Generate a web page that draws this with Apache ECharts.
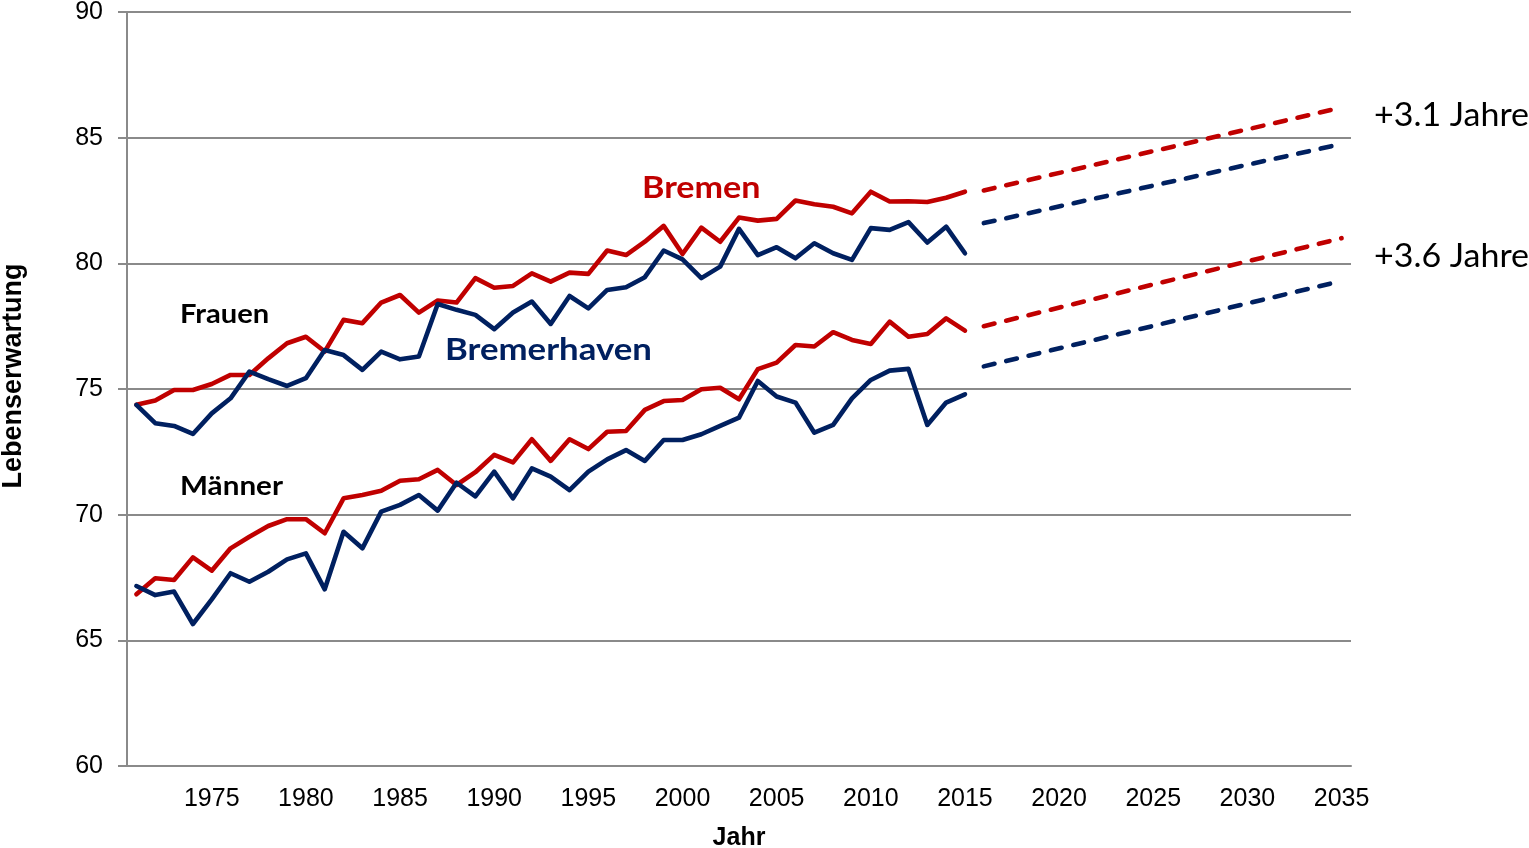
<!DOCTYPE html>
<html>
<head>
<meta charset="utf-8">
<script src="https://cdn.jsdelivr.net/npm/echarts@6/dist/echarts.min.js"></script>
<style>
	html, body { margin: 0; padding: 0; background: #ffffff; }
	#chart { width: 1529px; height: 848px; }
</style>
</head>
<body>
<div id="chart"></div>
<script>
	//Jahre (Kategorien) 1971 - 2035
	var years = [];
	for (var y = 1971; y <= 2035; y++) years.push(String(y));

	//Lebenserwartung 1971 - 2015
	var bremenFrauen = [74.37, 74.54, 74.96, 74.96, 75.2, 75.56, 75.56, 76.22, 76.82, 77.08,
		76.49, 77.75, 77.62, 78.44, 78.74, 78.04, 78.52, 78.44, 79.41, 79.03,
		79.1, 79.6, 79.27, 79.63, 79.58, 80.51, 80.33, 80.86, 81.49, 80.37,
		81.42, 80.86, 81.82, 81.7, 81.77, 82.5, 82.35, 82.25, 81.99, 82.85,
		82.46, 82.47, 82.44, 82.61, 82.85];
	var bremerhavenFrauen = [74.37, 73.64, 73.53, 73.21, 74.03, 74.63, 75.69, 75.39, 75.12, 75.43,
		76.55, 76.35, 75.76, 76.49, 76.18, 76.29, 78.38, 78.15, 77.95, 77.38,
		78.04, 78.48, 77.59, 78.7, 78.21, 78.94, 79.05, 79.45, 80.51, 80.16,
		79.41, 79.87, 81.37, 80.33, 80.64, 80.2, 80.8, 80.4, 80.14, 81.4,
		81.33, 81.64, 80.83, 81.46, 80.4];
	var bremenMaenner = [66.83, 67.47, 67.4, 68.3, 67.77, 68.66, 69.12, 69.55, 69.82, 69.82,
		69.26, 70.65, 70.78, 70.95, 71.35, 71.41, 71.78, 71.18, 71.69, 72.38,
		72.08, 73.0, 72.14, 73.0, 72.61, 73.3, 73.33, 74.17, 74.52, 74.56,
		74.99, 75.05, 74.59, 75.79, 76.05, 76.75, 76.69, 77.26, 76.95, 76.79,
		77.68, 77.08, 77.19, 77.81, 77.32];
	var bremerhavenMaenner = [67.16, 66.8, 66.94, 65.65, 66.63, 67.67, 67.33, 67.73, 68.22, 68.46,
		67.03, 69.32, 68.66, 70.12, 70.39, 70.78, 70.16, 71.27, 70.73, 71.71,
		70.65, 71.84, 71.51, 70.98, 71.71, 72.2, 72.57, 72.14, 72.97, 72.97,
		73.2, 73.53, 73.86, 75.32, 74.7, 74.46, 73.26, 73.57, 74.63, 75.36,
		75.73, 75.8, 73.57, 74.46, 74.79];

	//Prognose (2016 und 2035)
	var progYears = ["2016", "2035"];
	var progBremenFrauen = [82.9, 86.2];
	var progBremerhavenFrauen = [81.6, 84.75];
	var progBremenMaenner = [77.5, 81.0];
	var progBremerhavenMaenner = [75.9, 79.3];

	var rot = "#C00000";
	var blau = "#002060";
	var grau = "#8a8a8a";

	function solid(name, data, color) {
		return {
			name: name,
			type: "line",
			data: data,
			symbol: "none",
			silent: true,
			lineStyle: { color: color, width: 4.6, join: "round", cap: "round" },
		};
	}

	function dashed(name, values, color) {
		var d = [];
		for (var i = 0; i < progYears.length; i++) d.push([progYears[i], values[i]]);
		return {
			name: name,
			type: "line",
			data: d,
			symbol: "none",
			silent: true,
			lineStyle: { color: color, width: 4.6, type: [11, 12], cap: "round" },
		};
	}

	//Beschriftung im Diagramm
	function label(text, x, y, size, weight, color, sx) {
		return {
			type: "text",
			x: x,
			y: y,
			scaleX: sx,
			style: { text: text, font: weight + " " + size + "px Lato", fill: color, verticalAlign: "middle" },
		};
	}

	var chart = echarts.init(document.getElementById("chart"));
	var option = {
		animation: false,
		grid: { left: 127, right: 178, top: 12, bottom: 82, containLabel: false, outerBoundsMode: "none" },
		xAxis: {
			type: "category",
			data: years,
			boundaryGap: true,
			name: "Jahr",
			nameLocation: "middle",
			nameGap: 60,
			nameTextStyle: { fontFamily: "Liberation Sans", fontWeight: "bold", fontSize: 25, color: "#000" },
			axisLine: { lineStyle: { color: grau, width: 2 } },
			axisTick: { interval: 0, alignWithLabel: false, length: 7, lineStyle: { color: grau, width: 2 } },
			axisLabel: {
				interval: function (index, value) {
					return Number(value) % 5 === 0;
				},
				margin: 21,
				fontFamily: "Liberation Sans",
				fontSize: 25,
				color: "#000",
			},
			splitLine: { show: false },
		},
		yAxis: {
			type: "value",
			min: 60,
			max: 90,
			interval: 5,
			name: "Lebenserwartung",
			nameLocation: "middle",
			nameGap: 100,
			nameTextStyle: {
				fontFamily: "Liberation Sans",
				fontWeight: "bold",
				fontSize: 27,
				color: "#000",
				padding: [0, 0, 0, 26],
			},
			axisLine: { show: true, lineStyle: { color: grau, width: 2 } },
			axisTick: { show: true, length: 9, lineStyle: { color: grau, width: 2 } },
			axisLabel: { margin: 24, fontFamily: "Liberation Sans", fontSize: 25, color: "#000" },
			splitLine: { lineStyle: { color: grau, width: 2 } },
		},
		series: [
			solid("Bremen Frauen", bremenFrauen, rot),
			solid("Bremerhaven Frauen", bremerhavenFrauen, blau),
			solid("Bremen Männer", bremenMaenner, rot),
			solid("Bremerhaven Männer", bremerhavenMaenner, blau),
			dashed("Prognose Bremen Frauen", progBremenFrauen, rot),
			dashed("Prognose Bremerhaven Frauen", progBremerhavenFrauen, blau),
			dashed("Prognose Bremen Männer", progBremenMaenner, rot),
			dashed("Prognose Bremerhaven Männer", progBremerhavenMaenner, blau),
		],
		graphic: [
			label("Bremen", 642, 188, 31, "bold", rot, 1.1),
			label("Bremerhaven", 445, 350, 31, "bold", blau, 1.12),
			label("Frauen", 180, 315, 26, "bold", "#000", 1.12),
			label("Männer", 180, 487, 26, "bold", "#000", 1.14),
			label("+3.1 Jahre", 1374, 115, 33, "normal", "#000", 1.03),
			label("+3.6 Jahre", 1374, 256, 33, "normal", "#000", 1.03),
		],
	};
	chart.setOption(option);
</script>
</body>
</html>
